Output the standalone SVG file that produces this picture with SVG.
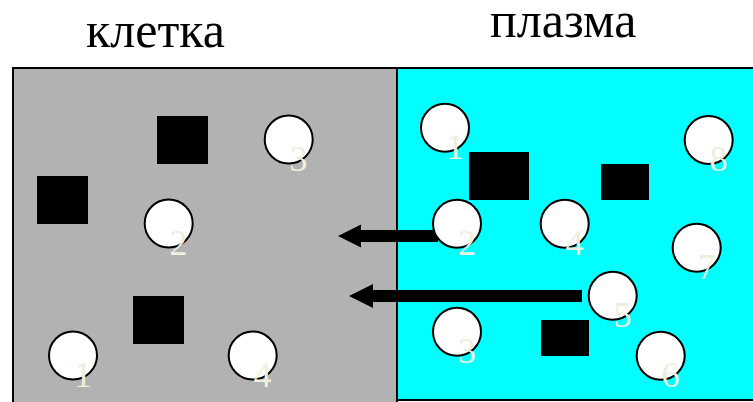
<svg xmlns="http://www.w3.org/2000/svg" width="753" height="402" viewBox="0 0 753 402">
  <style>
    .title { font-family: "Liberation Serif", "Times New Roman", serif; font-size: 50px; fill: #000; }
    .num { font-family: "Liberation Serif", "Times New Roman", serif; font-size: 36px; fill: #EEEEDD; text-anchor: middle; }
    .ball { fill: #fff; stroke: #000; stroke-width: 2; }
    .box { fill: #000; }
    .arrow { fill: #000; }
  </style>

  <!-- compartment titles -->
  <text class="title" x="86" y="47">клетка</text>
  <text class="title" x="490" y="37">плазма</text>

  <!-- compartments -->
  <g id="cell">
    <rect x="13" y="68" width="384" height="340" fill="#B2B2B2" stroke="#000" stroke-width="2"/>
  </g>
  <g id="plasma">
    <rect x="397" y="68" width="360" height="332" fill="#00FFFF" stroke="#000" stroke-width="2"/>
  </g>

  <!-- transport arrows -->
  <g id="connectors">
    <path class="arrow" d="M338,236 L361,224.5 L361,230 L438,230 L438,242 L361,242 L361,247.5 Z"/>
    <path class="arrow" d="M349,296 L373,284 L373,290 L582,290 L582,302 L373,302 L373,308 Z"/>
  </g>

  <!-- large molecules -->
  <g id="cell-squares">
    <rect class="box" x="157" y="116" width="51" height="48"/>
    <rect class="box" x="37" y="176" width="51" height="48"/>
    <rect class="box" x="133" y="296" width="51" height="48"/>
  </g>
  <g id="plasma-squares">
    <rect class="box" x="469" y="152" width="60" height="48"/>
    <rect class="box" x="601" y="164" width="48" height="36"/>
    <rect class="box" x="541" y="320" width="48" height="36"/>
  </g>

  <!-- small molecules in the cell -->
  <g id="cell-1"><circle class="ball" cx="73" cy="355.5" r="24"/><text class="num" x="83" y="387">1</text></g>
  <g id="cell-2"><circle class="ball" cx="168.7" cy="223.5" r="24"/><text class="num" x="178.5" y="255">2</text></g>
  <g id="cell-3"><circle class="ball" cx="288.7" cy="139.5" r="24"/><text class="num" x="298.5" y="171">3</text></g>
  <g id="cell-4"><circle class="ball" cx="252.7" cy="355.5" r="24"/><text class="num" x="262.5" y="387">4</text></g>

  <!-- small molecules in the plasma -->
  <g id="plasma-1"><circle class="ball" cx="445" cy="127.7" r="24"/><text class="num" x="455" y="159">1</text></g>
  <g id="plasma-2"><circle class="ball" cx="457" cy="223.7" r="24"/><text class="num" x="467" y="255">2</text></g>
  <g id="plasma-3"><circle class="ball" cx="457" cy="331.7" r="24"/><text class="num" x="467" y="363">3</text></g>
  <g id="plasma-4"><circle class="ball" cx="564.7" cy="223.7" r="24"/><text class="num" x="574.5" y="255">4</text></g>
  <g id="plasma-5"><circle class="ball" cx="612.7" cy="295.7" r="24"/><text class="num" x="622.5" y="327">5</text></g>
  <g id="plasma-6"><circle class="ball" cx="660.7" cy="355.7" r="24"/><text class="num" x="670.5" y="387">6</text></g>
  <g id="plasma-7"><circle class="ball" cx="696.7" cy="247.7" r="24"/><text class="num" x="706.5" y="279">7</text></g>
  <g id="plasma-8"><circle class="ball" cx="708.7" cy="140" r="24"/><text class="num" x="718.5" y="171">8</text></g>
</svg>
